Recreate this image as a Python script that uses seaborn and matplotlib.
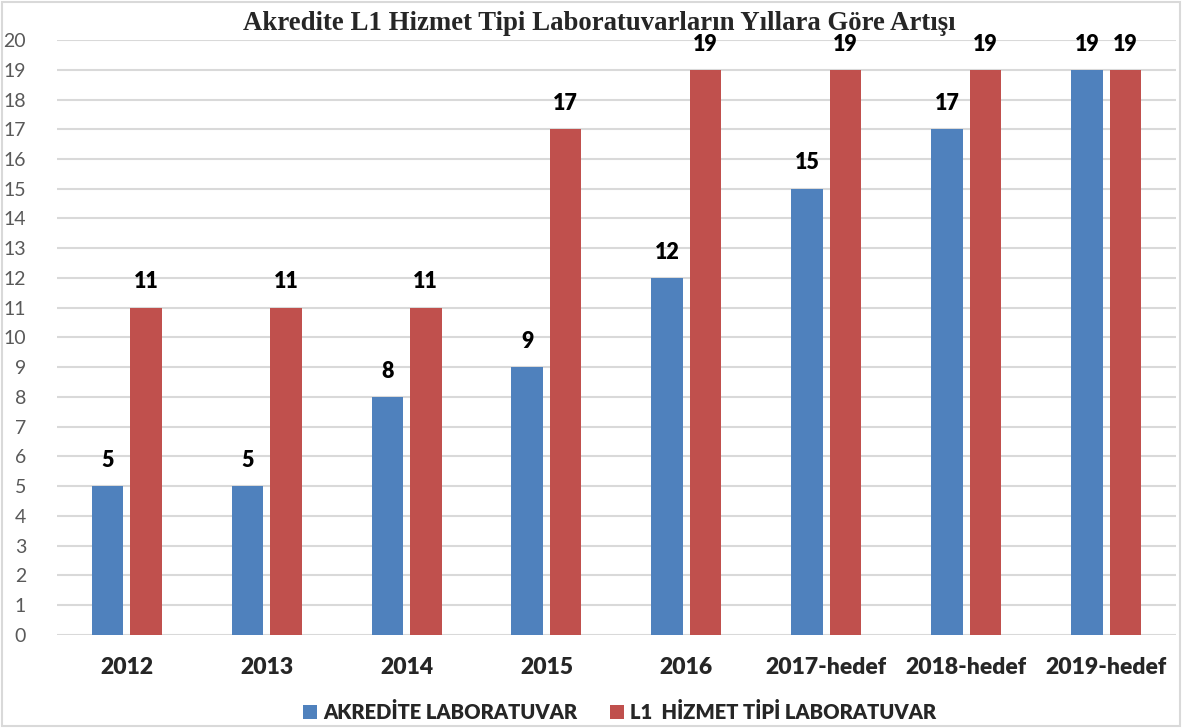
import pandas as pd
import matplotlib.pyplot as plt
import seaborn as sns
from matplotlib.patches import Rectangle

years = ["2012", "2013", "2014", "2015", "2016", "2017-hedef", "2018-hedef", "2019-hedef"]
akredite = [5, 5, 8, 9, 12, 15, 17, 19]
l1_hizmet = [11, 11, 11, 17, 19, 19, 19, 19]
series_names = ["AKREDİTE LABORATUVAR", "L1  HİZMET TİPİ LABORATUVAR"]
colors = ["#4F81BD", "#C0504D"]

df = pd.DataFrame({
    "Yil": years * 2,
    "Sayi": akredite + l1_hizmet,
    "Seri": [series_names[0]] * len(years) + [series_names[1]] * len(years),
})

sns.set_style("white")
plt.rcParams["font.family"] = ["Lato", "DejaVu Sans"]

fig = plt.figure(figsize=(11.82, 7.28), dpi=100)
ax = fig.add_axes([0.048, 0.128, 0.947, 0.817])

sns.barplot(data=df, x="Yil", y="Sayi", hue="Seri", palette=colors,
            width=0.55, gap=0.18, ax=ax, saturation=1, linewidth=0)

for container in ax.containers:
    ax.bar_label(container, padding=11, fontsize=15.5, fontweight="heavy", color="black")

ax.set_ylim(0, 20)
ax.set_xlim(-0.5, 7.5)
ax.set_yticks(range(0, 21))
ax.grid(axis="y", color="#D9D9D9", linewidth=1.5)
ax.set_axisbelow(True)
for s in ax.spines.values():
    s.set_visible(False)
ax.tick_params(axis="y", length=0, labelsize=14, labelcolor="#595959", pad=22)
ax.tick_params(axis="x", length=0, labelsize=16.5, pad=16)
for t in ax.get_xticklabels():
    t.set_fontweight("heavy")
ax.set_xlabel("")
ax.set_ylabel("")

ax.legend(loc="upper center", bbox_to_anchor=(0.503, -0.082), ncol=2, frameon=False,
          prop={"weight": "heavy", "size": 14.5}, handlelength=0.7, handleheight=0.7,
          handletextpad=0.3, columnspacing=1.6)

fig.text(0.507, 0.968, "Akredite L1 Hizmet Tipi Laboratuvarların Yıllara Göre Artışı",
         ha="center", va="center", fontsize=19.3, fontweight="bold",
         family=["Liberation Serif", "DejaVu Serif"])

fig.patches.append(Rectangle((0.002, 0.003), 0.996, 0.994, transform=fig.transFigure,
                             fill=False, edgecolor="#D9D9D9", linewidth=1.5))

fig.savefig("out.png", dpi=100)
